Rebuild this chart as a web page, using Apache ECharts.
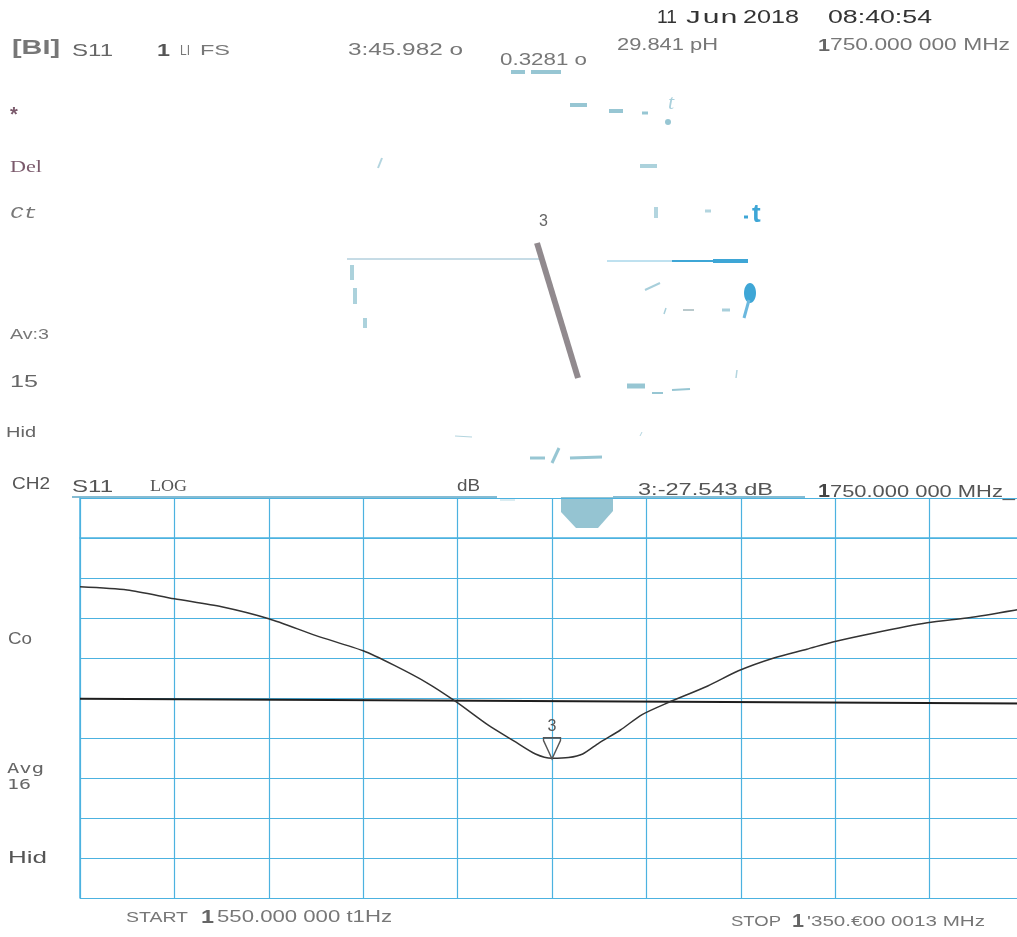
<!DOCTYPE html>
<html>
<head>
<meta charset="utf-8">
<script src="https://cdn.jsdelivr.net/npm/echarts@6/dist/echarts.min.js"></script>
<style>
html,body{margin:0;padding:0;background:#fff;overflow:hidden;width:1017px;height:937px;}
#chart{width:1040px;height:937px;}
</style>
</head>
<body>
<div id="chart"></div>
<script>
// ---- data ----
const START_MHZ = 1550;
const STOP_MHZ = 1950;
const freqMHz = [1550,1570,1590,1610,1630,1650,1670,1683,1697,1709,1723,1734,1743,1750,1757,1763,1770,1779,1788,1799,1816,1829,1844,1858,1869,1886,1909,1928,1950];
const s11dB   = [-6.1,-6.5,-7.6,-8.6,-10.1,-12.2,-14.1,-15.9,-18.1,-20.4,-23.4,-25.4,-27.0,-27.54,-27.45,-27.0,-25.6,-24.0,-22.1,-20.6,-18.5,-16.6,-15.0,-13.9,-13.0,-11.9,-10.6,-9.9,-8.8];
const refLineMHz = [1550, 1950];
const refLineDB  = [-20.1, -20.7];
const markerMHz = 1750;
const markerDB = -27.543;
const markerLabel = '3';
const Y_MIN = -45, Y_MAX = 5, Y_STEP = 5;      // 5 dB/div, ref -20 dB at centre
const X_DIV_MHZ = 40;                           // 40 MHz/div

const chart = echarts.init(document.getElementById('chart'));
const gridCol = '#4cb2e0';
const txt = '#5a5a5a';
const sans = 'Liberation Sans, Arial, sans-serif';
const serif = 'Liberation Serif, serif';
const mono = 'Liberation Mono, monospace';

const mctx = document.createElement('canvas').getContext('2d');
function measure(font, text){ mctx.font = font; return mctx.measureText(text).width; }

function T(x, y, text, font, fill, targetW) {
  const sx = targetW ? targetW / Math.max(1, measure(font, text)) : 1;
  return {type:'text', x:x, y:y, scaleX:sx,
    style:{x:0, y:0, text:text, font:font, fill:fill||txt, textVerticalAlign:'middle', verticalAlign:'middle'}};
}
function L(x1,y1,x2,y2,w,c){
  return {type:'line', shape:{x1:x1,y1:y1,x2:x2,y2:y2}, style:{stroke:c, lineWidth:w}};
}
const lb = '#97c6d3', db2 = '#3ea6d6';

const graphics = [
  // header top
  T(657,18, '11', '19px ' + sans, '#333', 20),
  T(684,18, 'Jun', '19px ' + mono, '#333', 54),
  T(743,18, '2018', '19px ' + sans, '#333', 56),
  T(828,18, '08:40:54', '19px ' + sans, '#333', 104),
  T(12,48, '[BI]', 'bold 20px ' + sans, '#777', 48),
  T(72,51, 'S11', '17px ' + sans, '#666', 41),
  T(157,51, '1', 'bold 17px ' + sans, '#555', 13),
  T(180,51, 'LI', '15px ' + sans, '#777', 10),
  T(200,51, 'FS', '15px ' + sans, '#777', 30),
  T(348,51, '3:45.982 o', '16px ' + sans, '#777', 115),
  T(500,61, '0.3281 o', '16px ' + sans, '#777', 87),
  T(617,46, '29.841 pH', '16px ' + sans, '#777', 101),
  T(818,46, '1', 'bold 17px ' + sans, '#666', 12),
  T(830,46, '750.000 000 MHz', '16px ' + sans, '#777', 180),
  L(511,72,525,72,4,lb), L(531,72,561,72,4,lb),
  // left column
  T(10,115, '*', 'bold 20px ' + sans, '#7b5a6c'),
  T(10,168, 'Del', '17px ' + serif, '#7b5a6c', 32),
  T(10,213, 'Ct', 'italic 17px ' + mono, '#777', 27),
  T(10,335, 'Av:3', '15px ' + sans, '#777', 39),
  T(10,382, '15', '17px ' + sans, '#666', 28),
  T(6,433, 'Hid', '15px ' + sans, '#666', 30),
  // smith-chart remnants
  L(570,105,587,105,4,lb), L(609,111,623,111,4,lb), L(642,113,648,113,3,lb),
  T(668,103, 't', 'italic 22px ' + serif, '#a9d0dc'),
  {type:'circle', shape:{cx:668,cy:122,r:3}, style:{fill:lb}},
  L(378,168,382,158,2,'#b3d5df'),
  L(640,166,657,166,4,'#acd2dc'),
  L(656,207,656,218,4,'#b3d5df'),
  L(705,211,711,211,3,'#b3d5df'),
  L(744,217,748,217,3,db2),
  T(752,215, 't', 'bold 26px ' + sans, db2),
  L(347,259,540,259,1,'#8db8cc'),
  T(539,222, '3', '16px ' + sans, '#666'),
  L(537,243,578,378,6,'#918a8e'),
  L(607,261,672,261,1,'#7ec3e0'), L(672,261,713,261,2,db2), L(713,261,748,261,4,db2),
  {type:'ellipse', shape:{cx:750,cy:293,rx:6,ry:10}, style:{fill:db2}},
  L(749,300,744,318,3,'#6bb8de'),
  L(645,290,660,283,2,'#a8cfdb'),
  L(664,314,666,308,1.5,'#a8cfdb'), L(683,310,694,310,2,'#b9c9cc'), L(722,310,730,310,3,'#a8cfdb'),
  L(352,265,352,280,4,'#acd2dc'), L(355,288,355,304,4,'#acd2dc'), L(365,318,365,328,4,'#acd2dc'),
  L(627,386,645,386,5,lb), L(652,393,663,393,2,lb), L(672,390,690,389,2,lb),
  L(737,370,736,378,1.5,'#b3d5df'),
  L(455,436,472,437,1,'#b3d5df'),
  L(530,458,545,458,3,lb), L(552,463,559,448,3,lb), L(570,458,602,457,3,lb),
  L(640,436,642,432,1,'#b3d5df'),
  // CH2 header
  T(12,485, 'CH2', '16px ' + sans, '#555', 38),
  T(72,487, 'S11', '17px ' + sans, '#555', 41),
  T(150,487, 'LOG', '16px ' + serif, '#555', 37),
  T(457,487, 'dB', '16px ' + sans, '#555', 23),
  T(638,490, '3:-27.543 dB', '17px ' + sans, '#555', 135),
  T(818,492, '1', 'bold 18px ' + sans, '#444', 12),
  T(830,492, '750.000 000 MHz_', '17px ' + sans, '#555', 185),
  L(72,497,497,497,2,'#85bcd3'),
  L(500,500,515,500,1,'#b6d9e4'),
  L(613,497,805,497,2,'#85bcd3'),
  {type:'polygon', shape:{points:[[561,497],[613,497],[613,511],[598,528],[576,528],[561,512]]}, style:{fill:'#95c4d2'}},
  // left side CH2
  T(8,640, 'Co', '16px ' + sans, '#666', 24),
  T(7,769, 'Avg', '14px DejaVu Sans Mono, monospace', '#666', 37),
  T(7,785, '16', '14px DejaVu Sans Mono, monospace', '#666', 24),
  T(8,858, 'Hid', '17px ' + sans, '#555', 39),
  // bottom
  T(126,918, 'START', '15px ' + sans, '#777', 62),
  T(201,918, '1', 'bold 18px ' + sans, '#666', 13),
  T(217,918, '550.000 000 t1Hz', '16px ' + sans, '#777', 175),
  T(731,922, 'STOP', '15px ' + sans, '#777', 50),
  T(792,922, '1', 'bold 18px ' + sans, '#666', 12),
  T(807,922, "'350.\u20AC00 0013 MHz", '15px ' + sans, '#777', 178)
];

const off = f => f - START_MHZ;
const traceData = freqMHz.map((f,i) => [off(f), s11dB[i]]);
const refData = refLineMHz.map((f,i) => [off(f), refLineDB[i]]);

chart.setOption({
  backgroundColor:'#ffffff',
  animation:false,
  grid:{left:80, top:498, width:944, height:400},
  xAxis:{type:'value', min:0, max:STOP_MHZ-START_MHZ, interval:X_DIV_MHZ,
    axisLabel:{show:false}, axisTick:{show:false},
    axisLine:{show:true, lineStyle:{color:gridCol, width:1.5}},
    splitLine:{show:true, lineStyle:{color:gridCol, width:1.2}}},
  yAxis:{type:'value', min:Y_MIN, max:Y_MAX, interval:Y_STEP,
    axisLabel:{show:false}, axisTick:{show:false},
    axisLine:{show:true, lineStyle:{color:gridCol, width:1.5}},
    splitLine:{show:true, lineStyle:{color:gridCol, width:1.2}}},
  series:[
    {type:'line', data:refData, symbol:'none', lineStyle:{color:'#1e1e1e', width:2}, z:3},
    {type:'line', data:traceData, symbol:'none', smooth:0.25,
      lineStyle:{color:'#333333', width:1.5}, z:4,
      markPoint:{
        symbol:'path://M0,0 L20,0 L20,3 L10,24 L0,3 Z',
        symbolSize:[17,21], symbolOffset:[0,-10],
        itemStyle:{color:'rgba(255,255,255,0)', borderColor:'#555', borderWidth:1.5},
        label:{show:true, position:'top', distance:2, formatter:markerLabel, color:'#555', fontSize:16, fontFamily:sans},
        data:[{coord:[off(markerMHz), markerDB]}]
      }}
  ],
  graphic:graphics
});
</script>
</body>
</html>
